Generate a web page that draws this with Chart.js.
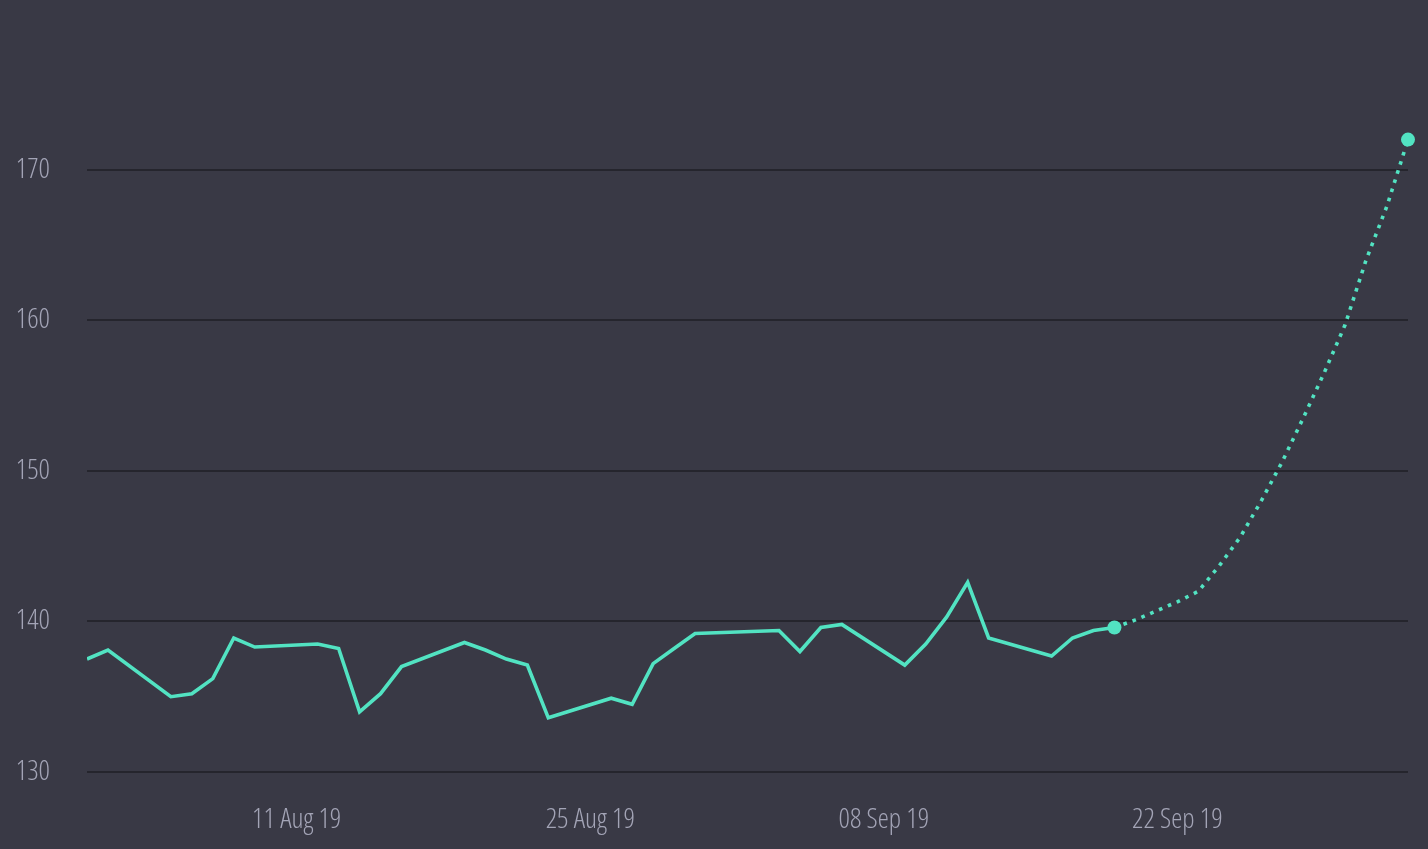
<!DOCTYPE html>
<html>
<head>
<meta charset="utf-8">
<script src="https://cdn.jsdelivr.net/npm/chart.js@4.4.0/dist/chart.umd.min.js"></script>
<style>
  html, body { margin: 0; padding: 0; background: #393945; overflow: hidden; }
  #wrap { width: 1428px; height: 849px; }
</style>
</head>
<body>
<div id="wrap"><canvas id="chart" width="1428" height="849"></canvas></div>
<script>
// ================= DATA =================
const START = "2019-08-01";
const END = "2019-10-03";

const priceDates = [
  "2019-08-01", "2019-08-02", "2019-08-05", "2019-08-06", "2019-08-07", "2019-08-08", "2019-08-09",
  "2019-08-12", "2019-08-13", "2019-08-14", "2019-08-15", "2019-08-16",
  "2019-08-19", "2019-08-20", "2019-08-21", "2019-08-22", "2019-08-23",
  "2019-08-26", "2019-08-27", "2019-08-28", "2019-08-29", "2019-08-30",
  "2019-09-03", "2019-09-04", "2019-09-05", "2019-09-06",
  "2019-09-09", "2019-09-10", "2019-09-11", "2019-09-12", "2019-09-13",
  "2019-09-16", "2019-09-17", "2019-09-18", "2019-09-19"
];
const priceValues = [
  137.5, 138.1, 135.0, 135.2, 136.2, 138.9, 138.3,
  138.5, 138.2, 134.0, 135.2, 137.0,
  138.6, 138.1, 137.5, 137.1, 133.6,
  134.9, 134.5, 137.2, 138.2, 139.2,
  139.4, 138.0, 139.6, 139.8,
  137.1, 138.5, 140.3, 142.6, 138.9,
  137.7, 138.9, 139.4, 139.6
];

const forecastDates = [
  "2019-09-19", "2019-09-20", "2019-09-21", "2019-09-22", "2019-09-23",
  "2019-09-24", "2019-09-25", "2019-09-26", "2019-09-27", "2019-09-28",
  "2019-09-29", "2019-09-30", "2019-10-01", "2019-10-02", "2019-10-03"
];
const forecastValues = [
  139.6, 140.1, 140.7, 141.3, 142.0,
  143.7, 145.6, 148.0, 150.6, 153.5,
  156.5, 159.7, 164.0, 167.6, 172.0
];

const xTickDates = ["2019-08-11", "2019-08-25", "2019-09-08", "2019-09-22"];
const xTickLabels = ["11 Aug 19", "25 Aug 19", "08 Sep 19", "22 Sep 19"];
const yTickValues = [130, 140, 150, 160, 170];

// ================= UTIL =================
const DAY = 24 * 3600 * 1000;
function dayIndex(s) {
  return Math.round((Date.parse(s + "T00:00:00Z") - Date.parse(START + "T00:00:00Z")) / DAY);
}
function toPoints(dates, values) {
  return dates.map((d, i) => ({ x: dayIndex(d), y: values[i] }));
}

const LINE = "#52e3c2";
const TEXT = "#a3a4b6";
// light condensed face, passed through the weight slot of the font string
const TICK_FONT = { family: "'Open Sans', 'DejaVu Sans Condensed', sans-serif", size: 28, weight: "300 condensed" };
const xTicks = xTickDates.map(dayIndex);
const lastIdx = forecastValues.length - 1;

// ================= GRAFIK =================
const ctx = document.getElementById("chart").getContext("2d");

new Chart(ctx, {
  type: "line",
  data: {
    datasets: [
      {
        label: "Price",
        data: toPoints(priceDates, priceValues),
        borderColor: LINE,
        borderWidth: 3.6,
        pointRadius: 0,
        tension: 0,
        fill: false
      },
      {
        label: "Forecast",
        data: toPoints(forecastDates, forecastValues),
        borderColor: LINE,
        backgroundColor: LINE,
        borderWidth: 3.6,
        borderDash: [3.6, 6],
        borderCapStyle: "butt",
        pointRadius: forecastValues.map((v, i) => (i === 0 || i === lastIdx) ? 7 : 0),
        pointBorderWidth: 0,
        pointBackgroundColor: LINE,
        tension: 0,
        fill: false,
        clip: false
      }
    ]
  },
  options: {
    responsive: false,
    animation: false,
    layout: { padding: { left: 0, right: 20, top: 0, bottom: 0 } },
    plugins: {
      legend: { display: false },
      tooltip: { enabled: false }
    },
    scales: {
      x: {
        type: "linear",
        min: 0,
        max: dayIndex(END),
        grid: { display: false, drawTicks: false },
        border: { display: false },
        afterBuildTicks: s => { s.ticks = xTicks.map(v => ({ value: v })); },
        afterFit: s => { s.height = 77; },
        ticks: {
          autoSkip: false,
          maxRotation: 0,
          padding: 31,
          color: TEXT,
          font: TICK_FONT,
          callback: v => xTickLabels[xTicks.indexOf(v)]
        }
      },
      y: {
        min: 130,
        max: 177.7,
        grid: { color: "#25252d", lineWidth: 2, drawTicks: false },
        border: { display: false },
        afterBuildTicks: s => { s.ticks = yTickValues.map(v => ({ value: v })); },
        afterFit: s => { s.width = 87; },
        ticks: {
          padding: 37,
          color: TEXT,
          font: TICK_FONT
        }
      }
    }
  }
});
</script>
</body>
</html>
